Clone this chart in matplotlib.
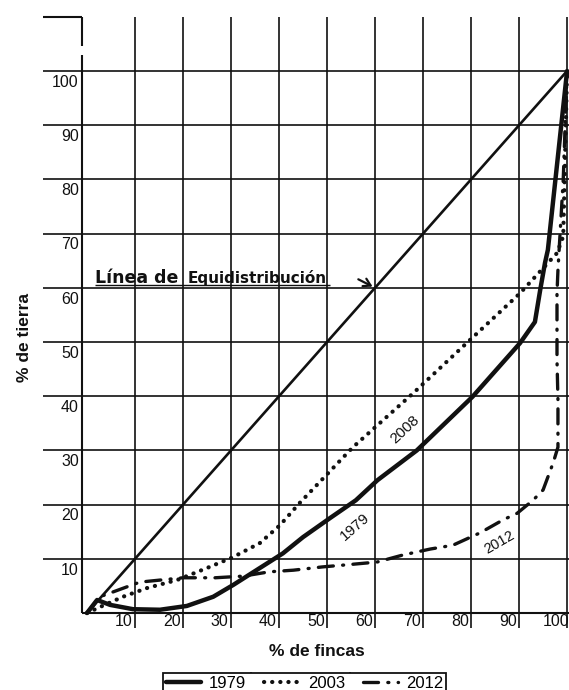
import matplotlib.pyplot as plt
from matplotlib.lines import Line2D

plt.rcParams['font.family'] = ['Liberation Sans', 'DejaVu Sans']

# grid / tick values
x_ticks = [10, 20, 30, 40, 50, 60, 70, 80, 90, 100]
y_ticks = [10, 20, 30, 40, 50, 60, 70, 80, 90, 100]

# line of equal distribution
x_equi = [0, 100]
y_equi = [0, 100]

# Lorenz curves
x_1979 = [0, 2.1, 4.8, 9.6, 15.2, 20.8, 26.3, 30.5, 36, 40.8, 45, 50.6, 56,
          60.5, 68.7, 80.3, 90.2, 93.3, 94.4, 95.4, 96, 100]
y_1979 = [0, 2.4, 1.5, 0.7, 0.6, 1.3, 3.0, 5.2, 8.3, 11, 14, 17.5, 20.8,
          24.5, 30, 39.9, 49.8, 53.7, 59.6, 64.6, 67, 100]

x_2003 = [0, 2.7, 7.5, 12.5, 18.8, 25, 30.4, 36, 40.2, 44.3, 55.4, 68, 79.8,
          90.2, 97.9, 99.2, 100]
y_2003 = [0, 1.1, 3.0, 4.6, 6.1, 8.3, 10.3, 12.9, 16.2, 20.3, 30.6, 40.6, 50.4,
          59, 66.4, 69.5, 100]

x_2012 = [0, 2.7, 11, 20, 26.7, 32.5, 38, 43, 49, 54.2, 60.4, 65.8, 71.5, 76.2,
          81.9, 86.7, 89.6, 92.9, 95, 97.1, 98.1, 98.1, 97.9, 97.9, 98.1, 99.2, 100]
y_2012 = [0, 3.0, 5.7, 6.5, 6.5, 6.8, 7.6, 7.9, 8.5, 8.9, 9.4, 10.7, 11.8, 12.5,
          14.8, 17.2, 18.4, 20.8, 22.7, 27.7, 30.6, 39.3, 46.7, 59, 63.3, 80, 100]

series_labels = ['1979', '2003', '2012']

W, H = 569, 690
fig = plt.figure(figsize=(W / 100, H / 100), dpi=100)
ax = fig.add_axes([87 / W, 77 / H, 482 / W, 596.2 / H])
ax.set_xlim(0, 100.4)
ax.set_ylim(0, 110)
ax.axis('off')

ink = '#111111'

# grid, drawn like the hand-made paper grid
ax.vlines(x_ticks, -2.8, 110, color=ink, lw=1.2, clip_on=False)
ax.hlines(y_ticks, -9.2, 100.4, color=ink, lw=1.2, clip_on=False)
ax.hlines(0, -1.0, 100.4, color=ink, lw=1.5, clip_on=False)
ax.vlines(-1.0, 0, 103.0, color=ink, lw=1.5, clip_on=False)
ax.vlines(-1.0, 104.6, 110, color=ink, lw=1.5, clip_on=False)
ax.hlines(110, -9.2, -1.0, color=ink, lw=1.5, clip_on=False)

# tick labels
for v in y_ticks:
    ax.text(-1.7, v - 2.1, str(v), ha='right', va='center', fontsize=11.5,
            color=ink, clip_on=False)
for v in x_ticks:
    xpos = v - 0.5 if v < 100 else 100.4
    ax.text(xpos, -1.5, str(v), ha='right', va='center', fontsize=11.5,
            color=ink, clip_on=False)

# curves
ax.plot(x_equi, y_equi, color=ink, lw=1.9, clip_on=False)
l79, = ax.plot(x_1979, y_1979, color=ink, lw=3.2, solid_joinstyle='round',
               solid_capstyle='round', clip_on=False)
l03, = ax.plot(x_2003, y_2003, color=ink, lw=3.0, ls=(0, (0.05, 1.9)),
               dash_capstyle='round', clip_on=False)
l12, = ax.plot(x_2012, y_2012, color=ink, lw=2.4, ls=(0, (4.5, 2.8, 0.3, 2.8)),
               dash_capstyle='round', clip_on=False)

# labels written on the curves
ax.text(66.2, 33.8, '2008', rotation=43, ha='center', va='center',
        fontsize=11, color=ink)
ax.text(55.8, 15.9, '1979', rotation=41, ha='center', va='center',
        fontsize=11, color=ink)
ax.text(85.8, 13.1, '2012', rotation=30, ha='center', va='center',
        fontsize=10.5, color=ink)

# equal distribution caption with arrow
ax.text(1.7, 60.9, 'Línea de', ha='left', va='baseline', fontsize=12.5,
        fontweight='bold', family='DejaVu Sans', color=ink)
ax.text(21.0, 60.9, 'Equidistribución', ha='left', va='baseline',
        fontsize=11, fontweight='bold', family='DejaVu Sans', color=ink)
ax.hlines(60.45, 1.7, 50.6, color=ink, lw=1.0)
ax.annotate('', xy=(60, 60), xytext=(56.0, 61.8),
            arrowprops=dict(arrowstyle='->,head_length=0.5,head_width=0.3',
                            color=ink, lw=1.6))

# axis titles
fig.text(25 / W, 1 - 337 / H, '% de tierra', rotation=90, ha='center',
         va='center', fontsize=12.5, fontweight='bold', color=ink)
fig.text(317 / W, 1 - 652 / H, '% de fincas', ha='center', va='center',
         fontsize=12.5, fontweight='bold', color=ink)

# boxed legend below the chart
leg = fig.legend([l79, l03, l12], series_labels, ncol=3, loc='upper left',
                 bbox_to_anchor=(163 / W, 1 - 673 / H), fontsize=12,
                 frameon=True, fancybox=False, edgecolor=ink, framealpha=1,
                 borderpad=0.15, handlelength=2.1, handletextpad=0.5,
                 columnspacing=1.1, borderaxespad=0)
leg.get_frame().set_linewidth(1.3)

fig.canvas.draw()
texts = leg.get_texts()
fbox = leg.get_frame().get_window_extent()
for t in texts[:2]:
    bb = t.get_window_extent()
    xs = (bb.x1 + 5) / W
    fig.add_artist(Line2D([xs, xs], [fbox.y0 / H, fbox.y1 / H], color=ink,
                          lw=1.3, transform=fig.transFigure))

fig.savefig('out.png', dpi=100)
